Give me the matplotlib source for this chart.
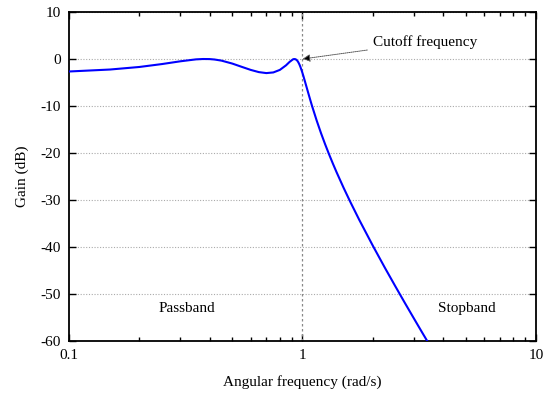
import matplotlib
matplotlib.use("Agg")
import matplotlib.pyplot as plt
from matplotlib.ticker import LogLocator, FixedLocator, NullFormatter, FixedFormatter

plt.rcParams['font.family'] = ['Liberation Serif', 'DejaVu Serif']
plt.rcParams['axes.unicode_minus'] = False

# Angular frequency (rad/s) and gain (dB)
freq = [0.10, 0.15, 0.20, 0.25, 0.30, 0.35, 0.375, 0.40, 0.42, 0.45, 0.50,
        0.55, 0.60, 0.65, 0.70, 0.75, 0.80, 0.85, 0.88, 0.91, 0.92, 0.935,
        0.95, 0.96, 0.97, 0.98, 0.99, 1.00, 1.01, 1.02, 1.05, 1.08, 1.10,
        1.15, 1.20, 1.25, 1.30, 1.35, 1.40, 1.50, 1.60, 1.75, 2.00, 2.25,
        2.50, 2.75, 3.00, 3.25, 3.50]
gain = [-2.66, -2.24, -1.70, -1.08, -0.49, -0.08, -0.005, -0.02, -0.11, -0.35, -0.97,
        -1.68, -2.32, -2.79, -3.00, -2.86, -2.32, -1.35, -0.63, -0.08, -0.01, -0.06,
        -0.36, -0.71, -1.16, -1.71, -2.33, -3.00, -3.71, -4.44, -6.63, -8.74, -10.07,
        -13.09, -15.76, -18.14, -20.30, -22.28, -24.11, -27.41, -30.34, -34.22, -39.71, -44.36,
        -48.39, -51.98, -55.20, -58.14, -60.83]

y_ticks = [10, 0, -10, -20, -30, -40, -50, -60]
x_ticks = [0.1, 1, 10]
x_tick_labels = ["0.1", "1", "10"]

fig = plt.figure(figsize=(5.48, 3.93), dpi=100)
ax = fig.add_axes([0.1259, 0.1323, 0.8522, 0.8372])

ax.plot(freq, gain, color='#0000ff', lw=1.5, zorder=3, clip_on=True)
ax.set_xscale('log')
ax.set_xlim(0.1, 10)
ax.set_ylim(-60, 10)

ax.yaxis.set_major_locator(FixedLocator(y_ticks))
ax.xaxis.set_major_locator(FixedLocator(x_ticks))
ax.xaxis.set_major_formatter(FixedFormatter(x_tick_labels))
ax.xaxis.set_minor_locator(LogLocator(base=10, subs=range(2, 10)))
ax.xaxis.set_minor_formatter(NullFormatter())

ax.grid(axis='y', which='major', color='#aaaaaa', linestyle=(0, (1, 1.5)), lw=0.8)
ax.axvline(1, color='#888888', linestyle=(0, (2, 2)), lw=0.9, zorder=2)

ax.tick_params(axis='both', which='major', direction='in', length=5, width=1,
               top=True, right=True, labelsize=11, pad=6)
ax.tick_params(axis='both', which='minor', direction='in', length=3, width=1,
               top=True, right=True)
for s in ax.spines.values():
    s.set_linewidth(1.3)

ax.set_xlabel('Angular frequency (rad/s)', fontsize=11, labelpad=9)
ax.set_ylabel('Gain (dB)', fontsize=11, labelpad=8)

ax.annotate('Cutoff frequency', xy=(1.0, 0.0), xytext=(2.0, 3.6),
            fontsize=11, va='center', ha='left',
            arrowprops=dict(arrowstyle='-|>', color='#555555', lw=0.7,
                            linestyle=(0, (1, 1)), mutation_scale=11,
                            shrinkA=2, shrinkB=0, fc='black', ec='#555555'))
ax.text(0.32, -53, 'Passband', fontsize=11, ha='center', va='center')
ax.text(5.06, -53, 'Stopband', fontsize=11, ha='center', va='center')

fig.savefig('out.png', dpi=100)
